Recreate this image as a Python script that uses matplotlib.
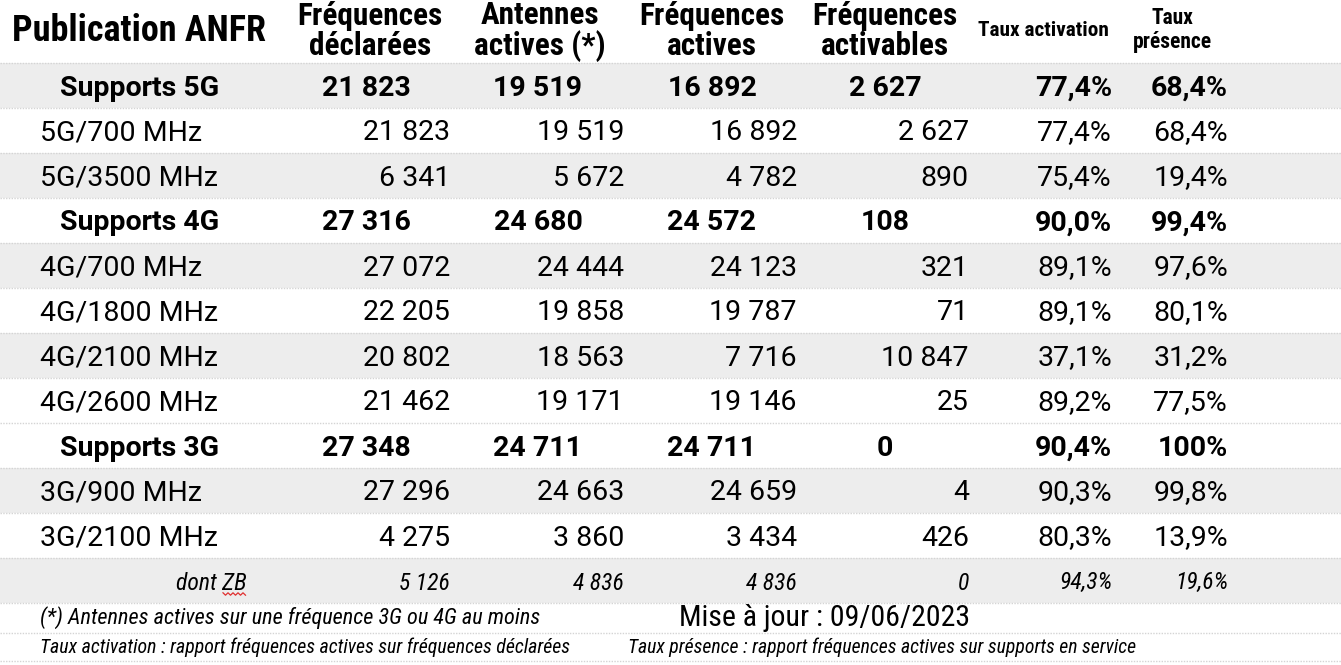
import matplotlib
matplotlib.use("Agg")
import matplotlib.pyplot as plt

row_labels = ["Supports 5G", "5G/700 MHz", "5G/3500 MHz",
              "Supports 4G", "4G/700 MHz", "4G/1800 MHz", "4G/2100 MHz", "4G/2600 MHz",
              "Supports 3G", "3G/900 MHz", "3G/2100 MHz", "dont ZB"]
row_kind = ["total", "band", "band",
            "total", "band", "band", "band", "band",
            "total", "band", "band", "sub"]
freq_declarees = [21823, 21823, 6341, 27316, 27072, 22205, 20802, 21462, 27348, 27296, 4275, 5126]
antennes_actives = [19519, 19519, 5672, 24680, 24444, 19858, 18563, 19171, 24711, 24663, 3860, 4836]
freq_actives = [16892, 16892, 4782, 24572, 24123, 19787, 7716, 19146, 24711, 24659, 3434, 4836]
freq_activables = [2627, 2627, 890, 108, 321, 71, 10847, 25, 0, 4, 426, 0]
taux_activation = [77.4, 77.4, 75.4, 90.0, 89.1, 89.1, 37.1, 89.2, 90.4, 90.3, 80.3, 94.3]
taux_presence = [68.4, 68.4, 19.4, 99.4, 97.6, 80.1, 31.2, 77.5, 100, 99.8, 13.9, 19.6]

headers = ["Fréquences\ndéclarées", "Antennes\nactives (*)", "Fréquences\nactives",
           "Fréquences\nactivables", "Taux activation", "Taux\nprésence"]
title = "Publication ANFR"
update_note = "Mise à jour : 09/06/2023"
foot_notes = ["(*) Antennes actives sur une fréquence 3G ou 4G au moins",
              "Taux activation : rapport fréquences actives sur fréquences déclarées",
              "Taux présence : rapport fréquences actives sur supports en service"]

shaded = [True, False, True, False, True, False, True, False, False, True, False, True]

FONT = ["Roboto", "DejaVu Sans"]
FONT_NARROW = ["Roboto Condensed", "Liberation Sans Narrow", "Roboto", "DejaVu Sans"]
GRID = "#d4d4d4"
SHADE = "#ededed"


def fmt_int(v):
    return f"{v:,}".replace(",", " ")


def fmt_pct(v):
    if v == 100:
        return "100%"
    return f"{v:.1f}".replace(".", ",") + "%"


W, H = 1341, 665
fig = plt.figure(figsize=(W / 100, H / 100), dpi=100)
ax = fig.add_axes([0, 0, 1, 1])
ax.set_xlim(0, W)
ax.set_ylim(H, 0)
ax.axis("off")

top = 63
row_h = 45

# right edges for plain rows, centres for bold totals
num_right = [450, 624, 797, 969]
num_center = [366, 538, 712, 885]
pct_right = [1112, 1228]

cols = [freq_declarees, antennes_actives, freq_actives, freq_activables]
pcts = [taux_activation, taux_presence]

for i, label in enumerate(row_labels):
    y0 = top + i * row_h
    yc = y0 + row_h / 2 + 2.5
    if shaded[i]:
        ax.axhspan(y0, y0 + row_h, color=SHADE, lw=0, zorder=0)
    kind = row_kind[i]
    if kind == "total":
        ax.text(140, yc, label, ha="center", va="center", fontsize=20.5,
                fontweight="bold", family=FONT)
        for c, vals in enumerate(cols):
            ax.text(num_center[c], yc, fmt_int(vals[i]), ha="center", va="center",
                    fontsize=20.5, fontweight="bold", family=FONT)
        for c, vals in enumerate(pcts):
            ax.text(pct_right[c], yc, fmt_pct(vals[i]), ha="right", va="center",
                    fontsize=20.5, fontweight="bold", family=FONT)
    elif kind == "band":
        ax.text(40, yc, label, ha="left", va="center", fontsize=20.5, family=FONT)
        for c, vals in enumerate(cols):
            ax.text(num_right[c], yc, fmt_int(vals[i]), ha="right", va="center",
                    fontsize=20.5, family=FONT)
        for c, vals in enumerate(pcts):
            ax.text(pct_right[c], yc, fmt_pct(vals[i]), ha="right", va="center",
                    fontsize=20.5, family=FONT)
    else:
        ax.text(247, yc, label, ha="right", va="center", fontsize=17,
                style="italic", family=FONT_NARROW)
        for c, vals in enumerate(cols):
            ax.text(num_right[c], yc, fmt_int(vals[i]), ha="right", va="center",
                    fontsize=17, style="italic", family=FONT_NARROW)
        for c, vals in enumerate(pcts):
            ax.text(pct_right[c], yc, fmt_pct(vals[i]), ha="right", va="center",
                    fontsize=17, style="italic", family=FONT_NARROW)
        # spell-check squiggle under "ZB"
        xs = [223 + k * 2.5 for k in range(10)]
        ys = [594 + (1.2 if k % 2 else -1.2) for k in range(10)]
        ax.plot(xs, ys, color="#e03030", lw=0.9, zorder=3)

# header
ax.text(12, 31, title, ha="left", va="center", fontsize=26, fontweight="bold",
        family=FONT_NARROW)
head_x = [370, 540, 712, 885, 1043, 1172]
for k, h in enumerate(headers):
    if k == 4:
        ax.text(head_x[k], 31, h, ha="center", va="center", fontsize=15.3,
                fontweight="bold", family=FONT_NARROW)
    elif k == 5:
        ax.text(head_x[k], 30, h, ha="center", va="center", fontsize=15.5,
                fontweight="bold", family=FONT_NARROW, linespacing=1.1)
    else:
        ax.text(head_x[k], 31, h, ha="center", va="center", fontsize=22.5,
                fontweight="bold", family=FONT_NARROW, linespacing=1.02)

# footer
ax.text(40, 618, foot_notes[0], ha="left", va="center", fontsize=16,
        style="italic", family=FONT_NARROW)
ax.text(679, 618, update_note, ha="left", va="center", fontsize=21.5, family=FONT_NARROW)
ax.text(40, 647, foot_notes[1], ha="left", va="center", fontsize=14.3,
        style="italic", family=FONT_NARROW)
ax.text(628, 647, foot_notes[2], ha="left", va="center", fontsize=14.2,
        style="italic", family=FONT_NARROW)

# dotted separators
for k in range(len(row_labels) + 1):
    y = top + k * row_h
    ax.axhline(y, color=GRID, lw=1, ls=(0, (1, 1)), zorder=1)
for y in (633, 661):
    ax.axhline(y, color=GRID, lw=1, ls=(0, (1, 1)), zorder=1)

fig.savefig("out.png", dpi=100, facecolor="white")
